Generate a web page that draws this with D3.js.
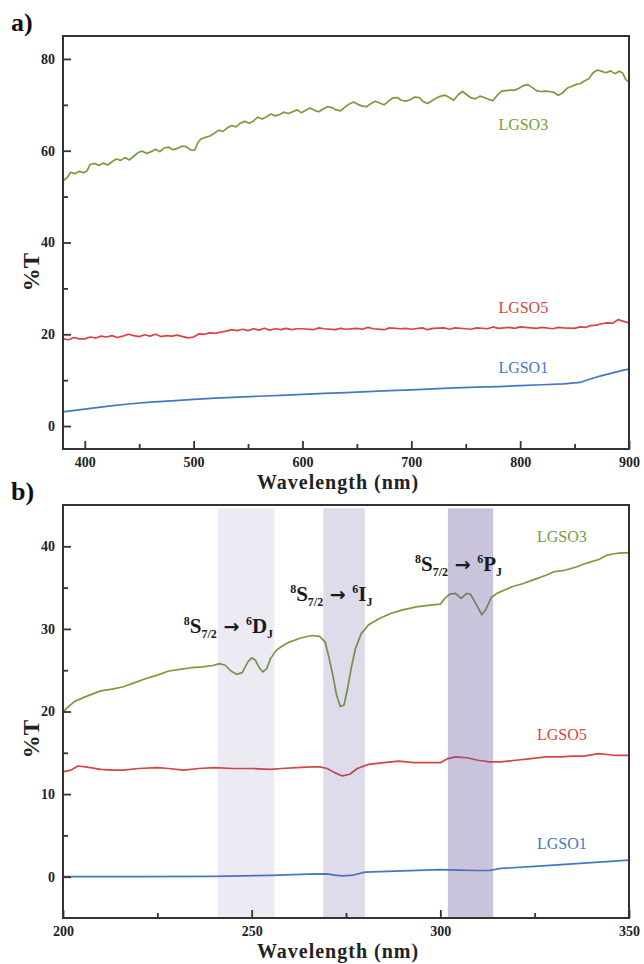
<!DOCTYPE html>
<html>
<head>
<meta charset="utf-8">
<script src="https://cdn.jsdelivr.net/npm/d3@7"></script>
<style>
  body { margin: 0; background: #fff; }
  text { font-family: "Liberation Serif", "Times New Roman", serif; }
</style>
</head>
<body>
<svg id="chart" width="644" height="964"></svg>
<script>
// panel a) 380-900 nm
const topLGSO3 = [
  [380, 53.4], [384, 54.2], [387, 55.3], [391, 55.0], [395, 55.5], [399, 55.2], [402, 55.6], [405, 57.0],
  [409, 57.2], [413, 56.8], [417, 57.3], [421, 56.9], [425, 57.6], [429, 58.2], [433, 57.9], [437, 58.5],
  [441, 58.0], [445, 58.8], [449, 59.6], [453, 59.9], [457, 59.4], [461, 59.8], [465, 60.3], [469, 59.8],
  [473, 60.6], [477, 60.8], [481, 60.2], [485, 60.5], [489, 61.0], [493, 60.9], [497, 60.2], [501, 60.1],
  [504, 61.8], [507, 62.6], [511, 62.9], [515, 63.2], [519, 63.8], [523, 64.5], [527, 64.2], [531, 65.0],
  [535, 65.5], [539, 65.2], [543, 66.0], [547, 66.4], [551, 66.0], [555, 66.5], [559, 67.3], [563, 66.9],
  [567, 67.4], [571, 68.0], [575, 67.6], [579, 67.9], [583, 68.4], [587, 68.1], [591, 68.5], [595, 68.9],
  [599, 68.3], [603, 68.8], [607, 69.3], [611, 68.8], [615, 68.5], [619, 69.1], [623, 69.6], [627, 69.4],
  [631, 68.9], [635, 68.7], [639, 69.5], [643, 70.2], [647, 70.6], [651, 70.1], [655, 69.7], [659, 69.6],
  [663, 70.3], [667, 70.8], [671, 70.4], [675, 70.0], [679, 70.8], [683, 71.5], [687, 71.6], [691, 71.0],
  [695, 70.8], [699, 71.1], [703, 71.7], [707, 71.6], [711, 70.7], [715, 70.3], [719, 70.9], [723, 71.5],
  [727, 71.9], [731, 72.1], [735, 71.6], [739, 71.0], [743, 72.2], [747, 72.9], [751, 72.2], [755, 71.5],
  [759, 71.3], [763, 71.9], [767, 71.6], [771, 71.2], [775, 70.9], [779, 72.1], [783, 73.0], [787, 73.1],
  [791, 73.2], [795, 73.2], [799, 73.6], [803, 74.2], [807, 74.4], [811, 73.8], [815, 73.1], [819, 72.9],
  [823, 73.0], [827, 72.9], [831, 72.7], [835, 72.1], [839, 72.6], [843, 73.6], [847, 74.0], [851, 74.4],
  [855, 74.6], [859, 75.2], [863, 75.7], [867, 77.0], [871, 77.6], [875, 77.3], [879, 77.0], [883, 77.4],
  [887, 76.8], [891, 77.3], [894, 77.0], [897, 75.5], [900, 75.0]
];
const topLGSO5 = [
  [380, 19.0], [385, 18.8], [390, 19.3], [395, 19.0], [400, 19.0], [405, 19.4], [410, 19.2], [415, 19.6],
  [420, 19.4], [425, 19.7], [430, 19.3], [435, 19.6], [440, 20.0], [445, 19.7], [450, 19.5], [455, 19.9],
  [460, 19.6], [465, 20.0], [470, 19.5], [475, 19.7], [480, 19.6], [485, 19.8], [490, 19.5], [495, 19.2],
  [500, 19.4], [505, 20.1], [510, 20.0], [515, 20.3], [520, 20.2], [525, 20.5], [530, 20.7], [535, 21.0],
  [540, 20.8], [545, 21.1], [550, 20.8], [555, 21.2], [560, 20.9], [565, 21.3], [570, 20.9], [575, 21.2],
  [580, 21.0], [585, 21.3], [590, 21.0], [595, 21.2], [600, 21.2], [610, 21.0], [615, 21.4], [620, 21.2],
  [630, 21.0], [635, 21.3], [640, 21.1], [650, 21.3], [655, 21.1], [660, 21.5], [665, 21.2], [675, 21.0],
  [680, 21.4], [690, 21.2], [695, 21.3], [700, 21.1], [710, 21.4], [715, 21.0], [720, 21.3], [730, 21.4],
  [735, 21.1], [740, 21.4], [750, 21.2], [755, 21.1], [760, 21.4], [770, 21.2], [775, 21.6], [780, 21.3],
  [790, 21.5], [795, 21.3], [800, 21.6], [810, 21.4], [815, 21.3], [820, 21.5], [830, 21.2], [835, 21.5],
  [840, 21.4], [850, 21.3], [855, 21.6], [860, 21.5], [865, 21.9], [870, 22.0], [875, 22.3], [880, 22.5],
  [885, 22.4], [890, 23.2], [895, 22.8], [900, 22.5]
];
const topLGSO1 = [
  [380, 3.1], [400, 3.7], [420, 4.3], [440, 4.8], [460, 5.2], [480, 5.5], [500, 5.8], [520, 6.1],
  [540, 6.3], [560, 6.5], [580, 6.7], [600, 6.9], [620, 7.1], [640, 7.3], [660, 7.5], [680, 7.7],
  [700, 7.9], [720, 8.1], [740, 8.3], [760, 8.5], [780, 8.6], [800, 8.8], [820, 9.0], [840, 9.2],
  [855, 9.5], [865, 10.3], [875, 11.0], [885, 11.6], [895, 12.2], [900, 12.4]
];

// panel b) 200-350 nm
const botLGSO3 = [
  [200, 19.9], [201, 20.4], [203, 21.2], [206, 21.8], [210, 22.5], [213, 22.7], [216, 23.0], [219, 23.5],
  [222, 24.0], [225, 24.4], [228, 24.9], [231, 25.1], [234, 25.3], [237, 25.4], [240, 25.6], [241.5, 25.8],
  [243, 25.6], [244.5, 24.9], [246, 24.5], [247.5, 24.7], [249, 26.0], [250, 26.5], [251, 26.2], [252, 25.3],
  [253, 24.8], [254, 25.2], [255, 26.4], [256.5, 27.4], [258, 27.9], [260, 28.4], [263, 28.9], [266, 29.2],
  [268, 29.1], [269.5, 28.4], [270.5, 26.5], [271.5, 24.4], [272.5, 22.0], [273.5, 20.6], [274.5, 20.8],
  [275.5, 23.0], [276.5, 25.5], [277.5, 27.6], [279, 29.4], [281, 30.5], [284, 31.3], [287, 31.9], [290, 32.3],
  [294, 32.7], [298, 32.9], [300, 33.0], [301, 33.6], [302.5, 34.2], [304, 34.3], [305.5, 33.7], [307, 34.3],
  [308, 34.2], [309.5, 33.0], [311, 31.7], [312, 32.3], [313.5, 33.8], [315, 34.3], [319, 35.1], [322, 35.5],
  [325, 36.0], [328, 36.5], [330, 36.9], [333, 37.1], [336, 37.5], [339, 38.0], [342, 38.4], [344, 38.9],
  [346, 39.1], [348, 39.2], [350, 39.2]
];
const botLGSO5 = [
  [200, 12.7], [202, 12.9], [204, 13.4], [206, 13.3], [210, 13.0], [213, 12.9], [216, 12.9], [220, 13.1],
  [225, 13.2], [228, 13.1], [232, 12.9], [236, 13.1], [240, 13.2], [245, 13.1], [250, 13.1], [255, 13.0],
  [258, 13.1], [262, 13.2], [266, 13.3], [268, 13.3], [270, 13.1], [272, 12.6], [274, 12.2], [276, 12.4],
  [278, 13.1], [281, 13.6], [285, 13.8], [289, 14.0], [293, 13.8], [297, 13.8], [300, 13.8], [302, 14.3],
  [304, 14.5], [307, 14.4], [310, 14.1], [313, 13.9], [316, 13.9], [320, 14.1], [324, 14.3], [328, 14.5],
  [332, 14.5], [335, 14.6], [338, 14.6], [342, 14.9], [346, 14.7], [350, 14.7]
];
const botLGSO1 = [
  [200, 0.0], [220, 0.0], [240, 0.05], [255, 0.15], [265, 0.3], [270, 0.35], [272, 0.2], [274, 0.1],
  [277, 0.2], [280, 0.55], [290, 0.7], [300, 0.85], [305, 0.8], [310, 0.75], [313, 0.75], [316, 1.0],
  [325, 1.25], [335, 1.55], [345, 1.85], [350, 2.0]
];

// absorption bands (nm) and their transitions
const bandRanges = [[241, 256], [269, 280], [302, 314]];
const bandOpacity = [0.13, 0.22, 0.36];
const transitions = [
  { pos: [232, 29.5], upper: "D" },
  { pos: [260.2, 33.4], upper: "I" },
  { pos: [293.3, 37.0], upper: "P" }
];

const colors = { LGSO3: "#789c3c", LGSO5: "#d4463e", LGSO1: "#4379c0" };

const svg = d3.select("#chart");

function drawPanel(p) {
  const x = d3.scaleLinear().domain(p.xDomain).range([63, 629]);
  const y = d3.scaleLinear().domain(p.yDomain).range([p.bottom, p.top]);
  const g = svg.append("g");

  const line = d3.line().x((d) => x(d[0])).y((d) => y(d[1]));
  p.series.forEach((s) => {
    g.append("path")
      .datum(s.data)
      .attr("d", line)
      .attr("fill", "none")
      .attr("stroke", colors[s.name])
      .attr("stroke-width", 1.7)
      .attr("stroke-linejoin", "round");
    g.append("text")
      .attr("x", x(s.label[0]))
      .attr("y", y(s.label[1]))
      .attr("fill", colors[s.name])
      .attr("font-size", 16)
      .text(s.name);
  });

  if (p.bands) {
    g.selectAll("rect.band")
      .data(p.bands)
      .join("rect")
      .attr("class", "band")
      .attr("x", (d) => x(d[0]))
      .attr("width", (d) => x(d[1]) - x(d[0]))
      .attr("y", y(44.6))
      .attr("height", y(p.yDomain[0]) - y(44.6))
      .attr("fill", "#6a5a9e")
      .attr("fill-opacity", (d, i) => bandOpacity[i]);
  }

  const axisStyle = (sel) => {
    sel.select(".domain").remove();
    sel.selectAll(".tick line").attr("stroke", "#333").attr("stroke-width", 1.8);
    sel.selectAll("text")
      .attr("font-family", "Liberation Serif, serif")
      .attr("font-weight", "bold")
      .attr("font-size", 14)
      .attr("fill", "#222");
  };

  g.append("g")
    .attr("transform", `translate(0,${p.bottom})`)
    .call(d3.axisBottom(x).tickValues(p.xMajor).tickSizeInner(-8).tickSizeOuter(0).tickPadding(8).tickFormat(d3.format("d")))
    .call(axisStyle);
  g.append("g")
    .attr("transform", `translate(0,${p.bottom})`)
    .call(d3.axisBottom(x).tickValues(p.xMinor).tickSizeInner(-5).tickSizeOuter(0).tickFormat(""))
    .call(axisStyle);
  g.append("g")
    .attr("transform", "translate(63,0)")
    .call(d3.axisLeft(y).tickValues(p.yMajor).tickSizeInner(-8).tickSizeOuter(0).tickPadding(8))
    .call(axisStyle);
  g.append("g")
    .attr("transform", "translate(63,0)")
    .call(d3.axisLeft(y).tickValues(p.yMinor).tickSizeInner(-5).tickSizeOuter(0).tickFormat(""))
    .call(axisStyle);

  g.append("rect")
    .attr("x", 63)
    .attr("y", p.top)
    .attr("width", 566)
    .attr("height", p.bottom - p.top)
    .attr("fill", "none")
    .attr("stroke", "#333")
    .attr("stroke-width", 2);

  g.append("text")
    .attr("x", 338)
    .attr("y", p.bottom + 40)
    .attr("text-anchor", "middle")
    .attr("font-weight", "bold")
    .attr("font-size", 20)
    .attr("letter-spacing", 1)
    .attr("fill", "#222")
    .text("Wavelength (nm)");

  g.append("text")
    .attr("transform", `translate(39,${p.yLabel}) rotate(-90)`)
    .attr("text-anchor", "middle")
    .attr("font-weight", "bold")
    .attr("font-size", 23)
    .attr("fill", "#222")
    .text("%T");

  g.append("text")
    .attr("x", 11)
    .attr("y", p.top - 5)
    .attr("font-weight", "bold")
    .attr("font-size", 26)
    .attr("fill", "#111")
    .text(p.tag);

  return { x, y, g };
}

drawPanel({
  tag: "a)",
  top: 36, bottom: 449, yLabel: 272,
  xDomain: [380, 900], yDomain: [-5, 85],
  xMajor: [400, 500, 600, 700, 800, 900], xMinor: [450, 550, 650, 750, 850],
  yMajor: [0, 20, 40, 60, 80], yMinor: [10, 30, 50, 70],
  series: [
    { name: "LGSO3", data: topLGSO3, label: [780, 64.6] },
    { name: "LGSO5", data: topLGSO5, label: [780, 24.7] },
    { name: "LGSO1", data: topLGSO1, label: [780, 11.6] }
  ]
});

const b = drawPanel({
  tag: "b)",
  top: 505, bottom: 918, yLabel: 739,
  xDomain: [200, 350], yDomain: [-5, 45],
  xMajor: [200, 250, 300, 350], xMinor: [225, 275, 325],
  yMajor: [0, 10, 20, 30, 40], yMinor: [5, 15, 25, 35],
  bands: bandRanges,
  series: [
    { name: "LGSO3", data: botLGSO3, label: [325.6, 40.5] },
    { name: "LGSO5", data: botLGSO5, label: [325.6, 16.5] },
    { name: "LGSO1", data: botLGSO1, label: [325.6, 3.3] }
  ]
});

// transition labels: 8S7/2 -> 6X_J
transitions.forEach((t) => {
  const txt = b.g.append("text")
    .attr("x", b.x(t.pos[0]))
    .attr("y", b.y(t.pos[1]))
    .attr("font-weight", "bold")
    .attr("fill", "#1a1a1a")
    .attr("font-size", 21);
  txt.append("tspan").attr("font-size", 12).attr("dy", -8).text("8");
  txt.append("tspan").attr("dy", 8).text("S");
  txt.append("tspan").attr("font-size", 12).attr("dy", 5).text("7/2");
  txt.append("tspan").attr("dy", -5).attr("font-family", "DejaVu Sans").attr("font-size", 19).text(" \u2192 ");
  txt.append("tspan").attr("font-size", 12).attr("dy", -8).text("6");
  txt.append("tspan").attr("dy", 8).text(t.upper);
  txt.append("tspan").attr("font-size", 12).attr("dy", 5).text("J");
});
</script>
</body>
</html>
